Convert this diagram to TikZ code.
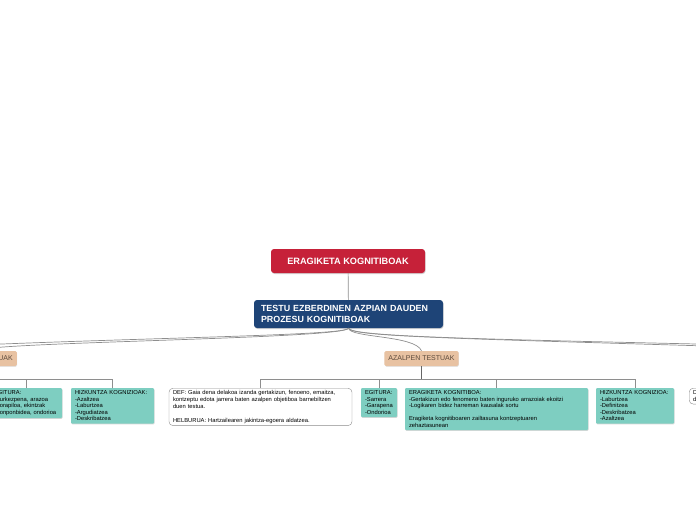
\documentclass[tikz,border=0pt]{standalone}
\usepackage{fontspec}
\setmainfont{Liberation Sans}
\usetikzlibrary{shadows}
\definecolor{kred}{HTML}{C62139}
\definecolor{kblue}{HTML}{1E4477}
\definecolor{ktan}{HTML}{E8C2A2}
\definecolor{ktantext}{HTML}{5C4A3C}
\definecolor{kteal}{HTML}{7ECEC1}
\definecolor{kline}{HTML}{8E8E8E}
\tikzset{
  mainbox/.style={rounded corners=3pt, text=white, align=left,
    font=\bfseries\fontsize{8.9}{11}\selectfont, inner xsep=7pt,
    drop shadow={shadow xshift=0.6pt,shadow yshift=-1pt,fill=black!35}},
  typebox/.style={fill=ktan, rounded corners=1.5pt, text=ktantext,
    font=\fontsize{7}{8}\selectfont, minimum height=15pt, inner xsep=4pt,
    drop shadow={shadow xshift=0.4pt,shadow yshift=-0.8pt,fill=black!20}},
  leafbox/.style={fill=kteal, rounded corners=1pt, align=left, anchor=north,
    font=\fontsize{5.8}{6.5}\selectfont, inner xsep=4pt, inner ysep=2.6pt,
    drop shadow={shadow xshift=0.5pt,shadow yshift=-0.8pt,fill=black!30}},
  notebox/.style={fill=white, draw=black!45, rounded corners=4pt, align=left,
    font=\fontsize{5.8}{6.8}\selectfont, inner xsep=4pt, inner ysep=2.4pt},
  link/.style={draw=kline, line width=0.7pt},
  stem/.style={draw=black!60, line width=0.7pt}
}
\begin{document}
\begin{tikzpicture}[x=1pt,y=-1pt]
  \useasboundingbox (0,0) rectangle (696,520);
  \clip (0,0) rectangle (696,520);

  % Main topics
  \node[mainbox, fill=kred, minimum width=154pt, minimum height=24pt, align=center,
    font=\bfseries\fontsize{9.2}{11}\selectfont]
    (title) at (348,261) {ERAGIKETA KOGNITIBOAK};
  \node[mainbox, fill=kblue, minimum width=189pt, minimum height=28pt, text width=175pt]
    (proc) at (348.5,314) {TESTU EZBERDINEN AZPIAN DAUDEN\\PROZESU KOGNITIBOAK};
  \draw[link] (title) -- (proc);

  % Text types
  \node[typebox, anchor=east] (narr) at (17,358.5) {NARRAZIO TESTUAK};
  \node[typebox] (azal) at (421.5,358.5) {AZALPEN TESTUAK};
  \coordinate (leftout) at (-160,352);
  \coordinate (rightA) at (900,352);
  \coordinate (rightB) at (1100,354);

  % Curves from the middle topic
  \draw[link] (proc.south) .. controls (347,337) and (60,338) .. (leftout);
  \draw[link] (proc.south) .. controls (346,339) and (-20,342) .. (narr.north);
  \draw[link] (proc.south) .. controls (350,338) and (415,335) .. (azal.north);
  \draw[link] (proc.south) .. controls (350,338) and (500,339) .. (rightA);
  \draw[link] (proc.south) .. controls (352,340) and (600,340) .. (rightB);

  % Narrazio branch
  \node[leafbox, text width=64pt] (negit) at (26,388)
    {EGITURA:\\-Aurkezpena, arazoa\\-Korapiloa, ekintzak\\-Konponbidea, ondorioa};
  \node[leafbox, text width=75pt] (nhizk) at (112.5,388)
    {HIZKUNTZA KOGNIZIOAK:\\-Azaltzea\\-Laburtzea\\-Argudiatzea\\-Deskribatzea};
  \coordinate (nbar) at (-22,379.5);
  \draw[link] (narr.south) -- (nbar) -| (nhizk.north);
  \draw[link] (negit.north) -- (negit.north |- nbar);

  % Azalpen branch
  \node[notebox, anchor=north, minimum width=183pt, text width=175pt] (def) at (260.5,388)
    {DEF: Gaia dena delakoa izanda gertakizun, fenoeno, emaitza,\\
     kontzeptu edota jarrera baten azalpen objetiboa barnebiltzen\\
     duen testua.\\[6.8pt]
     HELBURUA: Hartzailearen jakintza-egoera aldatzea.};
  \node[leafbox, text width=28pt] (aegit) at (379,388)
    {EGITURA:\\-Sarrera\\-Garapena\\-Ondorioa};
  \node[leafbox, text width=175pt] (aerag) at (496.5,388)
    {ERAGIKETA KOGNITIBOA:\\-Gertakizun edo fenomeno baten inguruko arrazoiak ekoitzi\\
     -Logikaren bidez harreman kausalak sortu\\[6.5pt]
     Eragiketa kognitiboaren zailtasuna kontzeptuaren\\zehaztasunean};
  \node[leafbox, text width=70pt] (ahizk) at (635,388)
    {HIZKUNTZA KOGNIZIOA:\\-Laburtzea\\-Definitzea\\-Deskribatzea\\-Azaltzea};
  \coordinate (abar) at (421.5,379);
  \draw[stem] (azal.south) -- (abar);
  \draw[link] (abar) -| (def.north);
  \draw[link] (abar) -| (ahizk.north);
  \draw[link] (aegit.north) -- (aegit.north |- abar);
  \draw[link] (aerag.north) -- (aerag.north |- abar);

  % Next branch, cut at the edge
  \node[notebox, anchor=north west, text width=120pt] (ndef) at (689,388)
    {DEF: Gertaera bat kontatzen\\duen testua.};
\end{tikzpicture}
\end{document}
